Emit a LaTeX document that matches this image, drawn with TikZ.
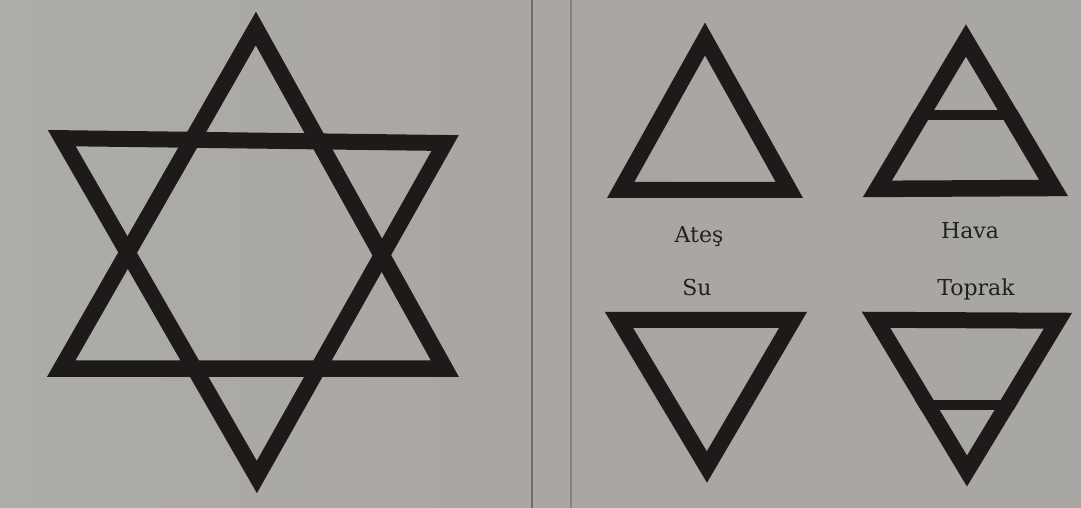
\documentclass[tikz,border=0pt]{standalone}
\usepackage{fontspec}
\setmainfont{DejaVu Serif}
\usetikzlibrary{calc}
\definecolor{bgL}{HTML}{ABADA8}
\definecolor{bgM}{HTML}{ABA5A3}
\definecolor{bgR}{HTML}{A8A7A3}
\definecolor{ink}{HTML}{1F1A1A}
\definecolor{txt}{HTML}{222020}
\definecolor{ruleA}{HTML}{6F6D6B}
\definecolor{ruleB}{HTML}{858280}
\newcommand\thicktri[4]{%
  \coordinate (ctr) at (barycentric cs:#1=1,#2=1,#3=1);
  \draw[sym=#4pt] ($(#1)!#4pt!(ctr)$) -- ($(#2)!#4pt!(ctr)$) -- ($(#3)!#4pt!(ctr)$) -- cycle;}
\begin{document}
\begin{tikzpicture}[x=1pt,y=-1pt,
  sym/.style={draw=ink, line width=#1, line join=miter, miter limit=10},
  lbl/.style={font=\fontsize{22}{24}\selectfont, text=txt, anchor=base, inner sep=0pt}]
\useasboundingbox (0,0) rectangle (1081,508);
\shade[left color=bgL, right color=bgR, middle color=bgM] (0,0) rectangle (1081,508);
% dividers
\draw[ruleA, line width=2pt] (532,0) -- (532,508);
\draw[ruleB, line width=2pt] (571,0) -- (571,508);
% star
\coordinate (A1) at (256,12);
\coordinate (B1) at (47,377);
\coordinate (C1) at (459,377);
\coordinate (D1) at (48,130);
\coordinate (E1) at (459,135);
\coordinate (F1) at (257,493);
\thicktri{A1}{B1}{C1}{16.5}
\thicktri{D1}{E1}{F1}{16}
% Ates (fire)
\coordinate (A2) at (705,23);
\coordinate (B2) at (607,198);
\coordinate (C2) at (803,198);
\thicktri{A2}{B2}{C2}{16}
% Su (water)
\coordinate (A3) at (605,312);
\coordinate (B3) at (807,312);
\coordinate (C3) at (707,483);
\thicktri{A3}{B3}{C3}{16}
% Hava (air)
\coordinate (A4) at (966,24);
\coordinate (B4) at (863,197);
\coordinate (C4) at (1068,196);
\thicktri{A4}{B4}{C4}{16.5}
\begin{scope}
  \clip (A4) -- (B4) -- (C4) -- cycle;
  \draw[ink, line width=10pt] (850,115) -- (1080,115);
\end{scope}
% Toprak (earth)
\coordinate (A5) at (862,312);
\coordinate (B5) at (1072,313);
\coordinate (C5) at (967,487);
\thicktri{A5}{B5}{C5}{16}
\begin{scope}
  \clip (A5) -- (B5) -- (C5) -- cycle;
  \draw[ink, line width=10pt] (850,405) -- (1080,405);
\end{scope}
% labels
\node[lbl] (ates) at (699,242) {Ateş};
\node[lbl] (hava) at (970,238) {Hava};
\node[lbl] (su) at (697,295) {Su};
\node[lbl] (toprak) at (976,295) {Toprak};
\end{tikzpicture}
\end{document}
